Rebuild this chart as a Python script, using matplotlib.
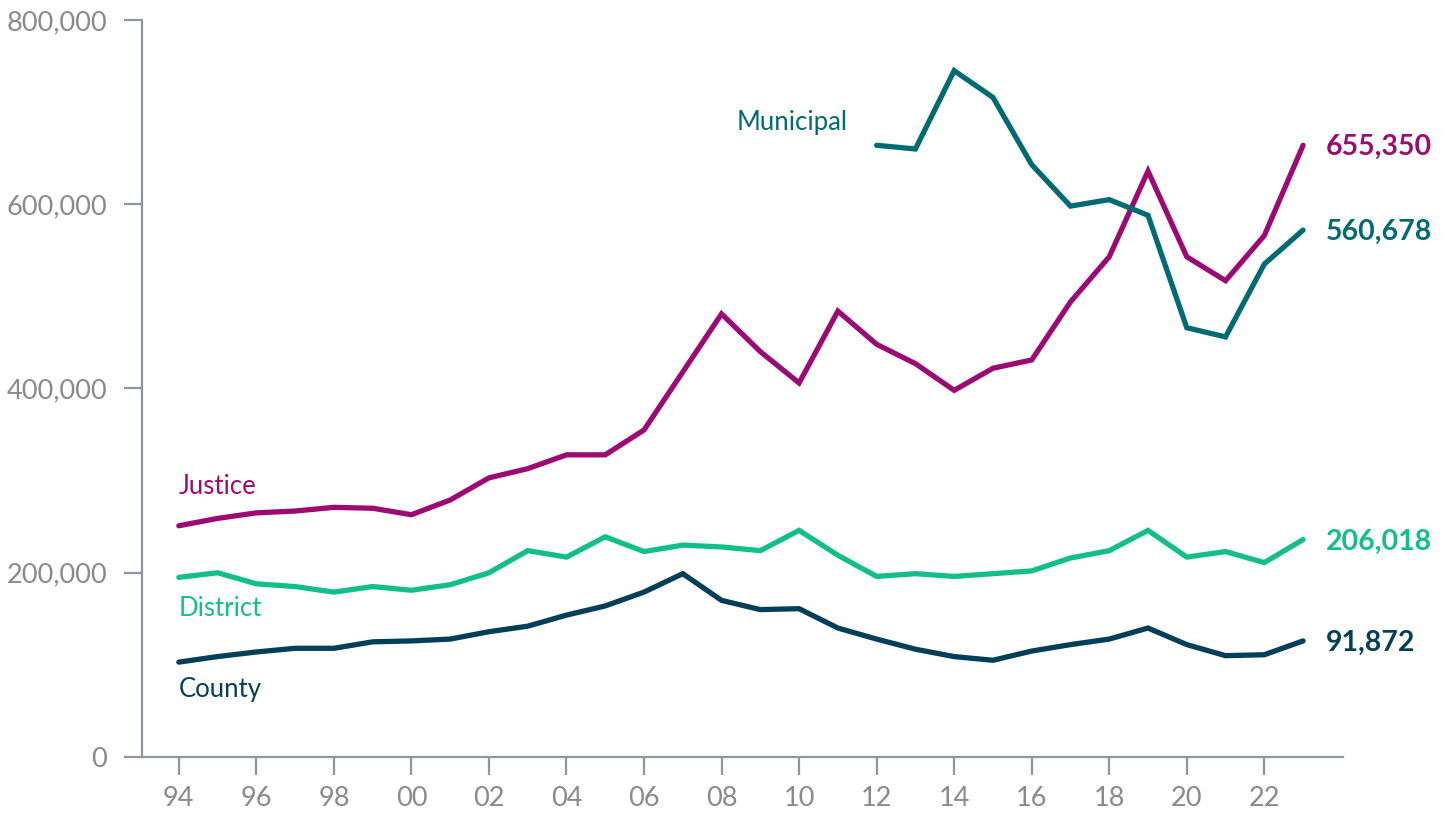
import matplotlib
import matplotlib.pyplot as plt
from matplotlib.ticker import FuncFormatter

matplotlib.use('Agg')

plt.rcParams['font.family'] = ['Lato', 'DejaVu Sans']

# Data
years = list(range(1994, 2024))
justice = [251, 259, 265, 267, 271, 270, 263, 279, 303, 313, 328, 328, 355, 418,
           481, 440, 406, 484, 448, 427, 398, 422, 431, 494, 543, 636, 543, 517,
           566, 664]
district = [195, 200, 188, 185, 179, 185, 181, 187, 200, 224, 217, 239, 223, 230,
            228, 224, 246, 219, 196, 199, 196, 199, 202, 216, 224, 246, 217, 223,
            211, 236]
county = [103, 109, 114, 118, 118, 125, 126, 128, 136, 142, 154, 164, 179, 199,
          170, 160, 161, 140, 128, 117, 109, 105, 115, 122, 128, 140, 122, 110,
          111, 126]
muni_years = list(range(2012, 2024))
municipal = [664, 660, 745, 716, 643, 598, 605, 588, 466, 456, 535, 572]

end_labels = {'Justice': '655,350', 'Municipal': '560,678',
              'District': '206,018', 'County': '91,872'}

c_justice = '#9C0A74'
c_muni = '#016A72'
c_district = '#12BF8A'
c_county = '#033F58'
c_axis = '#8E979F'
c_tick = '#8A8A8A'

fig = plt.figure(figsize=(14.47, 8.19), dpi=100)
ax = fig.add_axes([142 / 1447, 1 - 757 / 819, (1343 - 142) / 1447, (757 - 20) / 819])

lw = 3.8
series = [
    ('Justice', years, justice, c_justice),
    ('District', years, district, c_district),
    ('County', years, county, c_county),
    ('Municipal', muni_years, municipal, c_muni),
]
for name, xs, vals, col in series:
    ys = [v * 1000 for v in vals]
    ax.plot(xs, ys, color=col, lw=lw, solid_capstyle='round',
            solid_joinstyle='miter', zorder=3)
    ax.text(xs[-1] + 0.58, ys[-1] - 2000, end_labels[name], color=col, fontsize=20.5,
            fontweight='bold', va='center', ha='left')

# Series name labels
ax.text(1994, 280000, 'Justice', color=c_justice, fontsize=18.5, va='bottom', ha='left')
ax.text(1994, 148000, 'District', color=c_district, fontsize=18.5, va='bottom', ha='left')
ax.text(1994, 60000, 'County', color=c_county, fontsize=18.5, va='bottom', ha='left')
ax.text(2011.25, 675000, 'Municipal', color=c_muni, fontsize=18.5, va='bottom', ha='right')

ax.set_xlim(1993.05, 2024.03)
ax.set_ylim(0, 800000)
ax.set_yticks([0, 200000, 400000, 600000, 800000])
ax.yaxis.set_major_formatter(FuncFormatter(lambda v, p: f'{int(v):,}'))
ax.set_xticks(list(range(1994, 2023, 2)))
ax.set_xticklabels([f'{y % 100:02d}' for y in range(1994, 2023, 2)])

for side in ['top', 'right']:
    ax.spines[side].set_visible(False)
for side in ['left', 'bottom']:
    ax.spines[side].set_color(c_axis)
    ax.spines[side].set_linewidth(1.6)
ax.tick_params(axis='both', colors=c_axis, labelcolor=c_tick, width=1.6,
               length=13, labelsize=19.5)
ax.tick_params(axis='y', pad=12)
ax.tick_params(axis='x', pad=8)

fig.savefig('out.png', dpi=100)
